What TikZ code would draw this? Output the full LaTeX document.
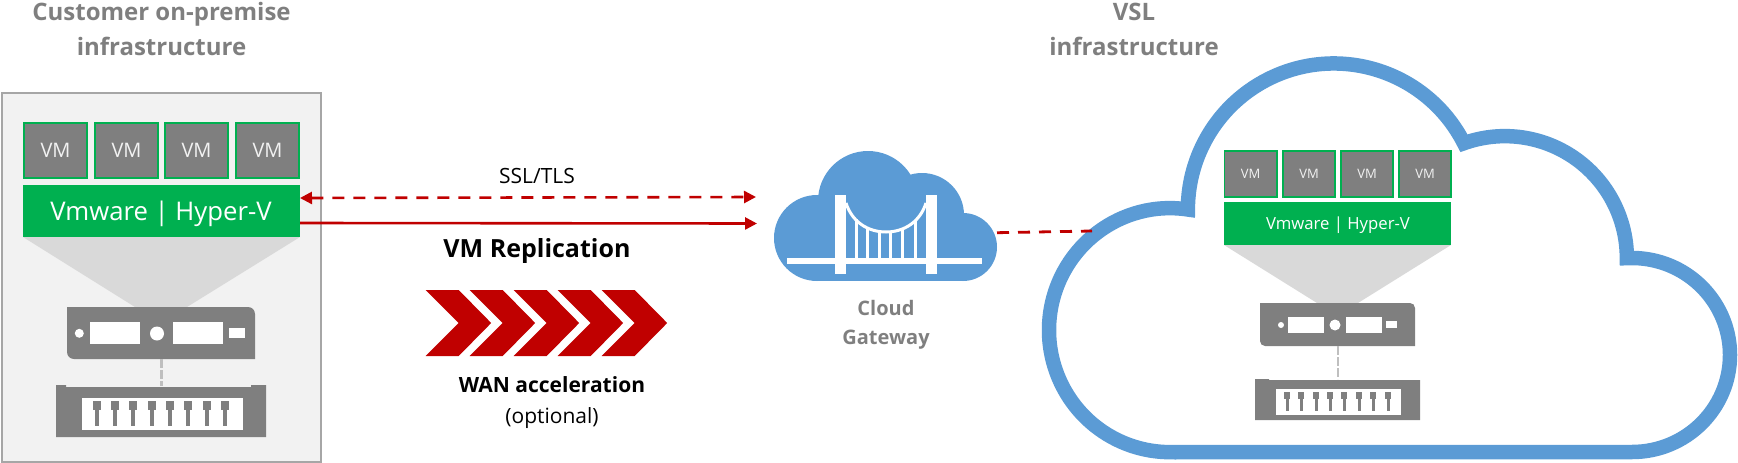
\documentclass[tikz,border=0pt]{standalone}
\usepackage{fontspec}
\setmainfont{Open Sans}
\usetikzlibrary{arrows.meta}
\definecolor{cgreen}{HTML}{00B050}
\definecolor{cgray}{HTML}{7F7F7F}
\definecolor{cblue}{HTML}{5B9BD5}
\definecolor{cred}{HTML}{C00000}
\definecolor{cpanel}{HTML}{F2F2F2}
\definecolor{cborder}{HTML}{A6A6A6}
\definecolor{cfunnel}{HTML}{D9D9D9}
\definecolor{clink}{HTML}{BFBFBF}
\newcommand{\fsz}[1]{\fontsize{#1}{#1}\selectfont}
\tikzset{
  vmbig/.style={draw=cgreen,line width=1.7pt,fill=cgray,text=cpanel,inner sep=0pt,minimum width=63.3pt,minimum height=55.3pt,font=\fsz{20}},
  vmsmall/.style={draw=cgreen,line width=1.7pt,fill=cgray,text=cpanel,inner sep=0pt,minimum width=52.3pt,minimum height=46.3pt,font=\fsz{13}},
  hvbar/.style={fill=cgreen,inner sep=0pt},
  hvtext/.style={text=white,inner sep=0pt},
  title/.style={text=cgray,font=\fsz{24}\bfseries,align=center,inner sep=0pt,anchor=base},
  wan/.style={-{Triangle[length=12pt,width=12pt]},cred,line width=2.6pt},
  wandash/.style={wan,dash pattern=on 12pt off 9pt},
  hostlink/.style={clink,line width=2.6pt,dash pattern=on 9pt off 2pt},
  label/.style={inner sep=0pt,align=center},
}
\begin{document}
\begin{tikzpicture}[x=1pt,y=-1pt]
\useasboundingbox (0,0) rectangle (1738,463);
% left panel
\draw[cborder,line width=2pt,fill=cpanel] (2,93) rectangle (321,462);
\node[title] (t1) at (161.5,20) {Customer on-premise};
\node[title] (t2) at (161.5,55) {infrastructure};
\node[vmbig] (a1) at (55.5,150.5) {VM};
\node[vmbig] (a2) at (126.5,150.5) {VM};
\node[vmbig] (a3) at (196.5,150.5) {VM};
\node[vmbig] (a4) at (267.5,150.5) {VM};
\fill[cfunnel] (23,237) -- (300,237) -- (187,307) -- (135,307) -- cycle;
\node[hvbar,minimum width=277pt,minimum height=52pt] (hvL) at (161.5,211) {};
\node[hvtext,font=\fsz{25.7}] (hvLt) at (161,213.5) {Vmware | Hyper-V};
% left server
\fill[cgray] (67,307) -- (248,307) arc[start angle=-90,end angle=0,radius=7] -- (255,359) -- (74,359) arc[start angle=90,end angle=180,radius=7] -- cycle;
\fill[white] (79.3,333.3) circle[radius=4.5];
\fill[white] (90,322) rectangle (140,344);
\fill[white] (157,333.5) circle[radius=7];
\fill[white] (173,322) rectangle (223,344);
\fill[white] (229,328) rectangle (245,338);
\coordinate (srvL) at (161.5,359);
\coordinate (swL) at (161.5,386);
\draw[hostlink] (srvL) -- (swL);
% left switch
\fill[cgray] (56,385) -- (66,385) -- (66,387) -- (251,387) -- (251,385) -- (266,385) -- (266,437) -- (56,437) -- cycle;
\fill[white] (82,398) rectangle (243,430);
\foreach \p in {97,115.3,133.3,152.3,170.3,188.3,207,225.3}{
  \fill[cgray] (\p-4,401) rectangle (\p+4,410);
  \fill[cgray] (\p-2,410) rectangle (\p+2,426);
}
% links
\coordinate (d1) at (300,198);
\coordinate (d2) at (756,197);
\coordinate (s1) at (300,223);
\coordinate (s2) at (757,223.5);
\draw[wandash,{Triangle[length=12pt,width=12pt]}-{Triangle[length=12pt,width=12pt]}] (d1) -- (d2);
\draw[wan] (s1) -- (s2);
\node[label,font=\fsz{21}] (ssl) at (537,176) {SSL/TLS};
\node[label,font=\fsz{25}\bfseries] (rep) at (537,251) {VM Replication};
\foreach \k in {0,1,2,3,4}{
  \fill[cred] (425.7+44*\k,290) -- ++(33,0) -- ++(32.5,33) -- ++(-32.5,33) -- ++(-33,0) -- ++(33,-33) -- cycle;
}
\node[label,font=\fsz{21}\bfseries] (wa) at (552,385) {WAN acceleration};
\node[label,font=\fsz{21}] (opt) at (552,418) {(optional)};
% gateway
\fill[cblue] (817,238) circle[radius=43];
\fill[cblue] (963,247) circle[radius=34];
\fill[cblue] (922,215) circle[radius=42];
\fill[cblue] (868,201) circle[radius=50];
\fill[cblue] (817,212) rectangle (963,281);
\fill[white] (835,195) rectangle (846,274);
\fill[white] (926,195) rectangle (937,274);
\fill[white] (787,258) rectangle (982,264);
\foreach \p/\q in {856/219,867/227,879/231,890/231,902/228,915/220}{
  \fill[white] (\p-1.5,\q) rectangle (\p+1.5,258);
}
\draw[white,line width=3pt] (846,203) .. controls (852,222) and (868,232) .. (886,232) .. controls (904,232) and (920,222) .. (926,203);
\node[label,text=cgray,font=\fsz{20}\bfseries] (cg1) at (886,308) {Cloud};
\node[label,text=cgray,font=\fsz{20}\bfseries] (cg2) at (886,340) {Gateway};
% VSL cloud
\node[title] (t3) at (1134,20) {VSL};
\node[title] (t4) at (1134,55) {infrastructure};
\draw[cblue,line width=14.5pt,line join=miter,miter limit=10]
  (1170,452) -- (1632,452)
  arc[start angle=90,end angle=-93,x radius=98,y radius=97]
  arc[start angle=0,end angle=-109.6,radius=122]
  arc[start angle=-27,end angle=-180,radius=146]
  arc[start angle=-81.5,end angle=-270,x radius=121,y radius=122]
  -- cycle;
\node[vmsmall] (b1) at (1250.5,174) {VM};
\node[vmsmall] (b2) at (1309,174) {VM};
\node[vmsmall] (b3) at (1367,174) {VM};
\node[vmsmall] (b4) at (1425,174) {VM};
\fill[cfunnel] (1224,245) -- (1451,245) -- (1358,303) -- (1317,303) -- cycle;
\node[hvbar,minimum width=227pt,minimum height=43pt] (hvR) at (1337.5,223.5) {};
\node[hvtext,font=\fsz{16.7}] (hvRt) at (1338,225) {Vmware | Hyper-V};
% right server
\fill[cgray] (1260,303) -- (1410,303) arc[start angle=-90,end angle=0,radius=5] -- (1415,346) -- (1265,346) arc[start angle=90,end angle=180,radius=5] -- cycle;
\fill[white] (1281,325) circle[radius=3];
\fill[white] (1288,317) rectangle (1324,333);
\fill[white] (1335,325) circle[radius=5.5];
\fill[white] (1346,317) rectangle (1382,333);
\fill[white] (1386,321) rectangle (1397,328);
\coordinate (srvR) at (1338,346);
\coordinate (swR) at (1338,379);
\draw[hostlink] (srvR) -- (swR);
% right switch
\fill[cgray] (1255,379) -- (1269,379) -- (1269,380) -- (1420,380) -- (1420,420) -- (1255,420) -- cycle;
\fill[white] (1276,389) rectangle (1401,415);
\foreach \p in {1287,1301,1316,1330,1344,1359,1373,1388}{
  \fill[cgray] (\p-3,392) rectangle (\p+3,399);
  \fill[cgray] (\p-1.5,399) rectangle (\p+1.5,411);
}
% gateway to cloud
\coordinate (g1) at (997,232.7);
\coordinate (g2) at (1092,231);
\draw[cred,line width=2.8pt,dash pattern=on 12pt off 9pt] (g1) -- (g2);
\end{tikzpicture}
\end{document}
